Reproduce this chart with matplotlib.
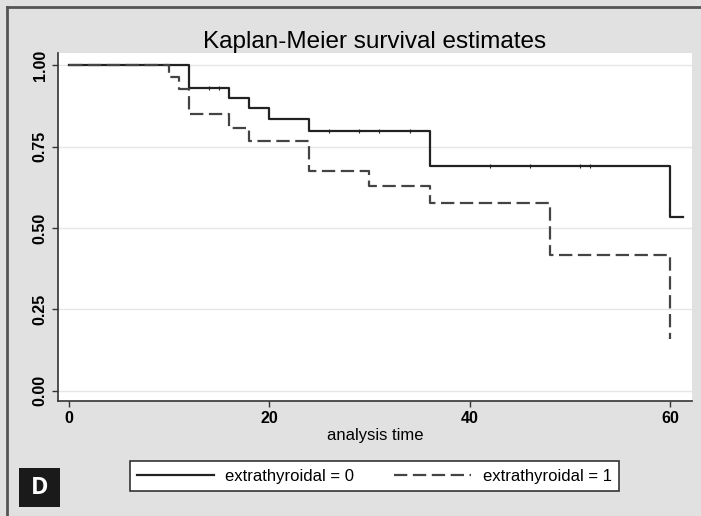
import matplotlib.pyplot as plt
from matplotlib.lines import Line2D
from matplotlib.patches import Rectangle

# Kaplan-Meier step data
solid_times = [0, 12, 16, 18, 20, 24, 36, 60, 61.3]
solid_surv = [1.0, 0.929, 0.898, 0.868, 0.834, 0.798, 0.69, 0.535, 0.535]
dashed_times = [0, 10, 11, 12, 16, 18, 24, 30, 36, 48, 60]
dashed_surv = [1.0, 0.964, 0.926, 0.849, 0.806, 0.767, 0.675, 0.629, 0.576, 0.418, 0.16]

# censored observations (small ticks on the solid curve)
cens_times = [14, 15, 26, 29, 31, 34, 42, 46, 51, 52]
cens_surv = [0.929, 0.929, 0.798, 0.798, 0.798, 0.798, 0.69, 0.69, 0.69, 0.69]

xticks = [0, 20, 40, 60]
yticks = [0.0, 0.25, 0.5, 0.75, 1.0]
ytick_labels = ["0.00", "0.25", "0.50", "0.75", "1.00"]
labels = ["extrathyroidal = 0", "extrathyroidal = 1"]

plt.rcParams['font.family'] = ['Liberation Sans', 'DejaVu Sans']

fig = plt.figure(figsize=(7.01, 5.16), dpi=100)
fig.patch.set_facecolor('#e1e1e1')

ax = fig.add_axes([0.0827, 0.2229, 0.9044, 0.6744])
ax.set_facecolor('white')

for y in yticks:
    ax.axhline(y, color='#e6e6e6', lw=1.0, zorder=0)

ax.step(solid_times, solid_surv, where='post', color='#222222', lw=1.6,
        label=labels[0])
ax.step(dashed_times, dashed_surv, where='post', color='#444444', lw=1.6,
        linestyle=(0, (6, 2.5)), label=labels[1])
ax.plot(cens_times, cens_surv, linestyle='none', marker='|', markersize=3,
        color='#222222', markeredgewidth=0.8)

ax.set_xlim(-1.1, 62.2)
ax.set_ylim(-0.031, 1.037)
ax.set_xticks(xticks)
ax.set_yticks(yticks)
ax.set_yticklabels(ytick_labels, rotation=90, va='center')
ax.tick_params(axis='both', direction='out', length=4, width=1, color='#333333',
               labelsize=11.5)
for lab in ax.get_xticklabels() + ax.get_yticklabels():
    lab.set_fontweight('bold')

for side in ['top', 'right']:
    ax.spines[side].set_visible(False)
for side in ['left', 'bottom']:
    ax.spines[side].set_color('#333333')
    ax.spines[side].set_linewidth(1.2)

ax.set_xlabel('analysis time', fontsize=12, labelpad=1)
fig.text(0.534, 0.919, 'Kaplan-Meier survival estimates', ha='center', va='center',
         fontsize=17.5)

leg = fig.legend(loc='center', bbox_to_anchor=(0.534, 0.0775), ncol=2,
                 fontsize=12, handlelength=4.6, handletextpad=0.7,
                 columnspacing=2.4, fancybox=False, framealpha=1,
                 edgecolor='#333333', borderpad=0.45)
leg.get_frame().set_linewidth(1.2)

# outer frame lines (left and top) and panel letter
fig.add_artist(Line2D([0.01, 0.01], [0, 0.986], transform=fig.transFigure,
                      color='#555555', lw=2))
fig.add_artist(Line2D([0.01, 1.0], [0.986, 0.986], transform=fig.transFigure,
                      color='#555555', lw=2))
fig.add_artist(Rectangle((0.027, 0.0175), 0.0585, 0.0756, transform=fig.transFigure,
                         facecolor='#1a1a1a', edgecolor='none'))
fig.text(0.0565, 0.055, 'D', color='white', fontsize=17, fontweight='bold',
         ha='center', va='center', family=['Open Sans', 'DejaVu Sans'])

fig.savefig('out.png', dpi=100, facecolor=fig.get_facecolor())
